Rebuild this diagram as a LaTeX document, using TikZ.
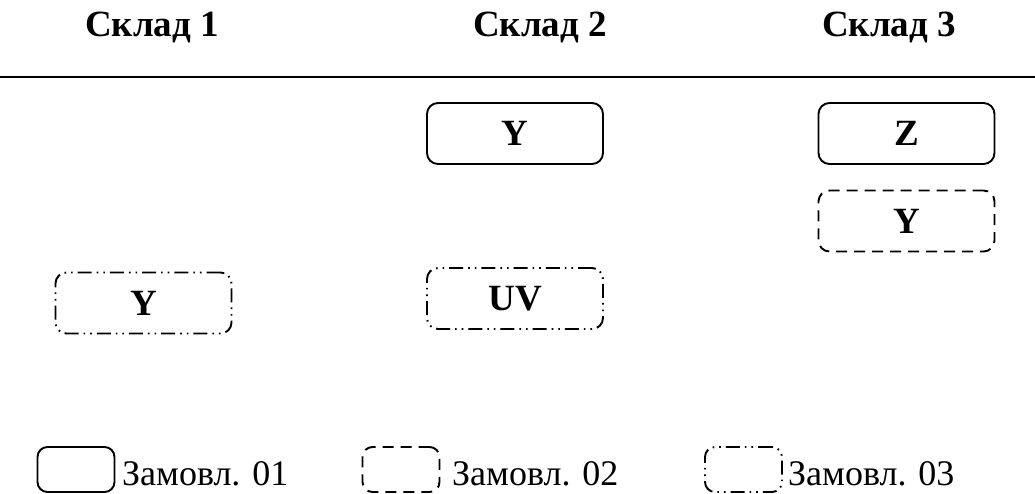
\documentclass[tikz,border=0pt]{standalone}
\usepackage{fontspec}
\setmainfont{Liberation Serif}
\begin{document}
\begin{tikzpicture}[x=1pt,y=-1pt,
  hdr/.style={font=\fontsize{37}{44}\selectfont\bfseries, anchor=base},
  ord/.style={draw, line width=1.9pt, rounded corners=11pt, inner sep=0pt,
              minimum width=176pt, minimum height=61pt,
              font=\fontsize{37}{44}\selectfont\bfseries},
  key/.style={draw, line width=1.9pt, rounded corners=10pt, inner sep=0pt,
              minimum width=77pt, minimum height=45pt},
  ordA/.style={solid},
  ordB/.style={dash pattern=on 11pt off 7pt},
  ordC/.style={dash pattern=on 14pt off 5pt on 1.6pt off 5pt on 1.6pt off 5pt},
  keytext/.style={anchor=base west, inner sep=0pt, font=\fontsize{36}{42}\selectfont}]
\useasboundingbox (0,0) rectangle (1035,493);

% warehouse headings and separator
\node[hdr] (h1) at (152,36) {Склад 1};
\node[hdr] (h2) at (540,36) {Склад 2};
\node[hdr] (h3) at (889,36) {Склад 3};
\coordinate (sl) at (0,77);
\coordinate (sr) at (1035,77);
\draw[line width=2.4pt] (sl) -- (sr);

% orders stored at each warehouse
\node[ord,ordA] (w2a) at (515,133.5) {Y};
\node[ord,ordA] (w3a) at (906.5,133.5) {Z};
\node[ord,ordB] (w3b) at (906.5,221) {Y};
\node[ord,ordC] (w1c) at (143.5,303) {Y};
\node[ord,ordC] (w2c) at (515,298.5) {UV};

% legend
\node[key,ordA] (k1) at (76,469.5) {};
\node[keytext] (t1) at (122,485) {Замовл. 01};
\node[key,ordB] (k2) at (401,469.5) {};
\node[keytext] (t2) at (452,485) {Замовл. 02};
\node[key,ordC] (k3) at (743.5,469.5) {};
\node[keytext] (t3) at (788,485) {Замовл. 03};
\end{tikzpicture}
\end{document}
